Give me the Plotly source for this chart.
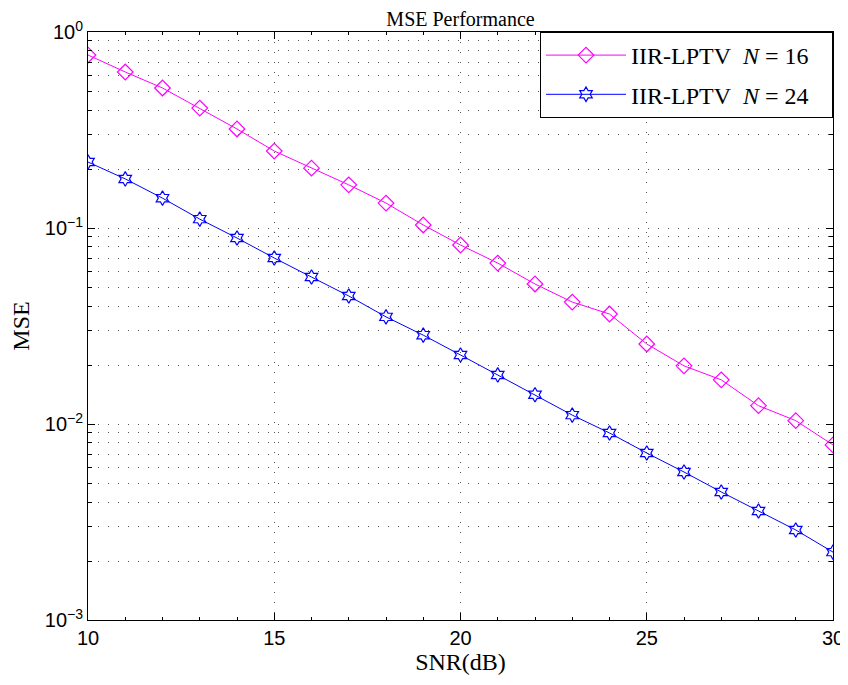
import plotly.graph_objects as go

# SNR points (dB)
snr = list(range(10, 31))

# MSE
mse_n16 = [0.763, 0.625, 0.518, 0.409, 0.320, 0.247, 0.202, 0.166, 0.134, 0.1036,
           0.0819, 0.0662, 0.0518, 0.0419, 0.0364, 0.0256, 0.0198, 0.0168, 0.0124,
           0.0104, 0.00782]
mse_n24 = [0.217, 0.178, 0.142, 0.111, 0.0889, 0.0703, 0.0562, 0.0450, 0.0352,
           0.0284, 0.0225, 0.0178, 0.0141, 0.0111, 0.0090, 0.00711, 0.00569,
           0.00450, 0.00360, 0.00288, 0.00222]

y_tickvals = [1e-3, 1e-2, 1e-1, 1]
y_ticktext = ["10<sup>\u22123</sup>", "10<sup>\u22122</sup>", "10<sup>\u22121</sup>", "10<sup>0</sup>"]
x_tickvals = [10, 15, 20, 25, 30]

serif = "Liberation Serif, DejaVu Serif, serif"
sans = "Liberation Sans, Arial, sans-serif"
nb = "\u00a0"

fig = go.Figure()
fig.add_trace(go.Scatter(
    x=snr, y=mse_n16, mode="lines+markers", legendgroup="a",
    name=f"IIR-LPTV{nb}{nb}<i>N</i>{nb}={nb}16{nb}{nb}{nb}",
    line=dict(color="#ff00ff", width=1),
    marker=dict(symbol="diamond-open", size=12, color="#ff00ff", line=dict(width=1.2)),
))
fig.add_trace(go.Scatter(
    x=snr, y=mse_n24, mode="lines+markers", legendgroup="b",
    name=f"IIR-LPTV{nb}{nb}<i>N</i>{nb}={nb}24{nb}{nb}{nb}",
    line=dict(color="#0000ff", width=1),
    marker=dict(symbol="hexagram-open", size=11, color="#0000ff", line=dict(width=1.2)),
))

dots = "1px,9px"

# page body adds an 8px offset, so the figure is sized 8px smaller
fig.update_layout(
    width=840, height=677,
    margin=dict(l=80, r=15, t=24, b=65),
    paper_bgcolor="white", plot_bgcolor="white",
    title=dict(text="MSE Performance", x=0.5, xref="paper", xanchor="center",
               y=1 - 11 / 677, yanchor="middle",
               font=dict(family=serif, size=20, color="black")),
    legend=dict(x=1, y=1, xanchor="right", yanchor="top",
                bgcolor="white", bordercolor="black", borderwidth=1,
                font=dict(family=serif, size=24, color="black"),
                tracegroupgap=5, itemwidth=80),
    showlegend=True,
)

fig.update_xaxes(
    range=[10, 30], tickvals=x_tickvals, ticks="inside", ticklen=7, tickcolor="black",
    showline=True, linecolor="black", linewidth=1, mirror="ticks",
    tickfont=dict(family=sans, size=20, color="black"),
    title=dict(text="SNR(dB)", font=dict(family=serif, size=24, color="black"), standoff=2),
    zeroline=False, automargin=False,
    showgrid=True, gridcolor="#555", griddash=dots, gridwidth=1,
    minor=dict(dtick=1, ticks="inside", ticklen=3, tickcolor="black", showgrid=False),
)
fig.update_yaxes(
    type="log", range=[-3, 0], tickvals=y_tickvals, ticktext=y_ticktext,
    ticks="inside", ticklen=7, tickcolor="black",
    showline=True, linecolor="black", linewidth=1, mirror="ticks",
    tickfont=dict(family=sans, size=20, color="black"),
    title=dict(text="MSE", font=dict(family=serif, size=24, color="black"), standoff=12),
    zeroline=False, automargin=False,
    showgrid=True, gridcolor="#555", griddash=dots, gridwidth=1,
    minor=dict(dtick="D1", ticks="inside", ticklen=4, tickcolor="black",
               showgrid=True, gridcolor="#555", griddash=dots, gridwidth=1),
)

fig.write_html("out.html")
